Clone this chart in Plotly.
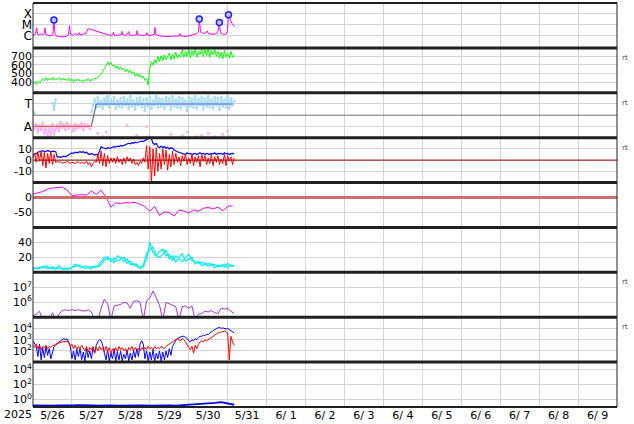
import math
import pandas as pd
import plotly.graph_objects as go
from plotly.subplots import make_subplots

START = pd.Timestamp("2025-05-26 00:00")
END = pd.Timestamp("2025-06-10 00:00")
day_labels = ["5/26", "5/27", "5/28", "5/29", "5/30", "5/31", "6/ 1", "6/ 2",
              "6/ 3", "6/ 4", "6/ 5", "6/ 6", "6/ 7", "6/ 8", "6/ 9"]

# ---- panel 1: X-ray flux (W/m2), irregular hours since 5/26 00 UT
xray_hours = [0.0, 0.6, 1.5, 2.3, 2.8, 3.7, 4.9, 6.2, 7.1, 7.4, 7.9, 9.2, 11.1, 12.3, 12.9, 13.6,
              15.4, 17.9, 20.3, 21.9, 22.5, 23.1, 24.7, 25.9, 27.1, 28.4, 29.0, 30.8, 32.7, 33.9,
              45.6, 47.5, 49.3, 49.6, 50.0, 52.4, 54.6, 54.9, 55.2, 57.3, 59.2, 59.5, 61.7, 63.8,
              64.1, 64.4, 67.2, 70.0, 70.3, 70.9, 73.4, 74.9, 75.2, 75.8, 78.3, 82.0, 85.7, 90.0,
              90.6, 91.2, 94.3, 96.8, 99.3, 101.1, 102.0, 102.5, 103.3, 104.8, 106.7, 107.3, 108.2,
              110.4, 112.8, 114.1, 114.9, 115.6, 117.1, 119.0, 119.9, 120.5, 121.5, 122.7, 124.5]
xray_flux = [1.2e-6, 1.0e-6, 1.5e-6, 5.0e-6, 1.3e-6, 1.1e-6, 1.4e-6, 1.2e-6, 1.6e-6, 5.0e-6, 1.2e-6,
             1.0e-6, 9e-7, 1.3e-6, 2.7e-5, 1.2e-6, 8e-7, 7.5e-7, 8e-7, 1.2e-6, 8e-6, 1.3e-6, 1.0e-6,
             1.5e-6, 1.1e-6, 1.8e-6, 1.1e-6, 1.3e-6, 1.6e-6, 4.3e-6, 1.1e-6, 1.0e-6, 1.2e-6, 2.0e-6,
             1.1e-6, 1.0e-6, 1.3e-6, 2.4e-6, 1.2e-6, 1.0e-6, 2.3e-6, 1.1e-6, 1.0e-6, 1.2e-6, 2.8e-6,
             1.2e-6, 1.0e-6, 1.1e-6, 1.8e-6, 1.0e-6, 1.1e-6, 1.3e-6, 5.6e-6, 1.2e-6, 9e-7, 8e-7,
             8.5e-7, 9e-7, 1.5e-6, 9e-7, 8e-7, 1.0e-6, 1.2e-6, 1.5e-6, 2e-6, 3.4e-5, 2.2e-6, 1.5e-6,
             1.8e-6, 2.6e-6, 1.5e-6, 1.3e-6, 1.4e-6, 2.5e-6, 1.6e-5, 1.8e-6, 1.3e-6, 1.3e-6, 2.5e-6,
             8.0e-5, 3.5e-5, 1.2e-5, 6.5e-6]
flare_hours = [12.9, 102.5, 114.9, 120.5]
flare_flux = [2.7e-5, 3.4e-5, 1.6e-5, 8.0e-5]
xray_ticks = [1e-6, 1e-5, 1e-4]
xray_labels = ["C", "M", "X"]

# ---- panel 2: solar wind speed (km/s), hourly
speed = [385, 405, 375, 410, 390, 420,
         440, 415, 450, 420, 445, 425, 455, 420, 440,
         430, 450, 420, 445, 425, 440, 415, 445,
         410, 435, 405, 430, 415, 440, 410, 425, 400, 430, 415, 440, 410, 430, 420, 445,
         440, 455, 470, 500, 520, 560,
         590, 640, 600, 630, 590,
         600, 560, 590, 550, 580, 540,
         560, 520, 550, 510, 540, 500,
         520, 470, 500, 460, 490, 450, 470,
         420, 440, 365,
         560, 640, 600, 660, 620,
         700, 640, 710, 650, 720, 660, 700,
         740, 660, 730, 670, 750, 680, 720, 690,
         780, 690, 760, 700, 790, 680, 770, 710, 790, 690, 760, 720,
         790, 700, 780, 710, 800, 690, 770, 720, 790, 700,
         760, 680, 750, 670, 770, 690, 740, 680, 760, 690, 720]
speed_ticks = [400, 500, 600, 700]

# ---- panel 3: IMF sector (T = +1, A = -1), hourly
toward_pts = [0.4, 0.2, None, None,
              None, None, None, None, None, None, None, None,
              1.1, 0.5, 1.4, None,
              None, None, None, None, None, None, None, None, None, None,
              None, None, None, None, None, None, None, None, None, None,
              0.3, 0.9, 1.4, 0.7, 1.6, 0.8, 1.3, 0.6, 1.5, 0.9, 1.7, 0.7, 1.4, 1.0, 1.6, 0.6, 1.3, 0.8, 1.5, 0.7,
              1.6, 0.9, 1.4, 0.6, 1.7, 0.8, 1.3, 0.5, 1.5, 0.9, 1.6, 0.7, 1.4, 0.4, 1.5, 0.8, 1.6, 0.6, 1.3, 0.9,
              1.7, 0.7, 1.5, 0.8, 1.4, 0.6, 1.6, 0.9, 1.5, 0.5, 1.7, 0.8, 1.4, 0.7, 1.6, 0.6, 1.5, 0.9, 1.3, 0.4,
              1.6, 0.8, 1.5, 0.7, 1.7, 0.6, 1.4, 0.9, 1.6, 0.5, 1.5, 0.8, 1.7, 0.7, 1.4, 0.6, 1.6, 0.9, 1.5, 0.5,
              1.6, 0.8, 1.4, 0.7, 1.7, 0.6, 1.5, 0.9, 1.3]
away_pts = [-0.6, -1.2, -0.8, -1.5, -0.9, -1.3, -0.7, -1.6, -1.0, -1.8, -1.1, -1.9, -0.8, -1.7, -1.2,
            -0.9, -1.4, -0.6, -1.1, -0.8, -1.3, -0.7, -1.2, -0.9, -1.0, -1.4, -0.8, -1.2, -0.9, -1.1,
            -0.7, -1.3, -0.8, -1.0, -0.9, -1.2]
away_sparse_hours = [40, 43, 45, 46, 58, 64, 70, 71, 85, 92, 95, 101, 104, 108, 112, 117, 120, 121]
away_sparse_vals = [-1.6, -1.9, -1.5, -1.9, -0.9, -1.8, -1.0, -1.9, -1.7, -1.8, -1.5, -1.9, -1.8,
                    -1.6, -1.9, -1.7, -1.4, -1.9]
sector_hours = [0, 36, 39, 123]
sector_vals = [-1, -1, 1, 1]

# ---- panel 4: IMF Bt / Bz (nT), hourly
bt = [4.5, 5, 6, 7, 7.5,
      8, 8.5, 7.5, 8, 8.5, 8, 7.5, 8,
      8, 7.5,
      2.5, 3, 2.5, 3, 3.5, 3, 4,
      5, 6, 6.5, 6, 7, 6.5, 7, 7.5, 7, 7.5, 6.5, 7,
      5.5, 5, 6, 5, 4.5, 5,
      4.5, 8, 12,
      11, 10.5, 10, 11, 10.5, 11, 11.5,
      12, 11.5, 12.5, 12, 13, 12.5, 13, 13.5, 14,
      15, 14.5, 15.5, 15, 16, 15.5, 16, 16.5,
      17, 16.5, 17.5, 18,
      19, 20, 19,
      15, 14, 15,
      12, 11, 12.5, 11, 12, 10.5, 11.5, 10, 11, 10.5,
      9, 8, 7.5, 7, 6.5, 6,
      6, 5, 6.5, 5.5, 6, 5, 5.5, 6, 5, 5.5, 6.5, 5.5, 6, 5, 6, 5.5, 5, 6, 5.5, 6.5,
      5, 6, 5.5, 6, 5, 6.5, 5.5, 6, 5, 5.5, 6, 5.5]
bz = [2, 6, -2, 7, -1,
      8, -5, 7, -7, 6, -3, 8, -4,
      5, -2,
      -1, -2, -1.5, -3, -2, -2.5, -1,
      -2, -3, -2, -2.5, -3, -2, -1.5, -3, -2, -2.5, -3, -1,
      -4, -2, -6, -3, -1, -2,
      5, -3, 8, -5, 6, -6, 4, -3, 2, -2,
      2, -3, 3, -2, 1, -4, 2, -3, 3, -1, 2, -3, 1, -4, -2, -5, -1, -3, 2, -2,
      13, -8, 12, -20, 10, -14,
      11, -10, 6, -8, 10, -4, 9, -9, 5, -6, 8,
      -4, 6, -2, 3, -5, 4, -1, 6, -4, 2, -3, 5, -5, 3, -2, 4, -6, 5, -1, 4,
      -4, 2, -3, 5, -5, 3, -2, 4, -4, 1, -3, 5, -5, 4, -1, 3, -4, 2]
b_ticks = [-10, 0, 10]

# ---- panel 5: Dst (nT), 3-hourly
dst = [11, 15, 20, 28, 32, 33, 35, 25, 6, 8, 10, 8, 22, 10, 24, 2,
       -32, -18, -20, -17, -18, -16, -22, -30, -46, -30, -60, -48, -50, -62, -42, -45,
       -52, -42, -46, -36, -33, -38, -32, -44, -30, -27]
dst_ticks = [-50, 0]

# ---- panel 6: solar wind density-like quantity, 2-hourly (two sources)
cyan1 = [6, 5, 7, 6, 9, 6, 5, 4, 9, 4,
         4, 5, 7, 8, 10, 7, 5, 7, 8, 6,
         9, 14, 20, 17, 18, 13, 22, 20, 14, 18,
         10, 12, 8, 6, 10, 25, 30, 34, 22, 28,
         31, 22, 24, 16, 22, 18, 14, 20, 24, 16,
         14, 12, 14, 10, 12, 9, 11, 7, 10, 7,
         12, 8, 9]
cyan2 = [4, 6, 5, 8, 6, 5, 7, 6, 5, 5,
         6, 4, 6, 11, 8, 6, 9, 6, 5, 8,
         7, 10, 16, 21, 14, 19, 15, 17, 20, 12,
         15, 9, 11, 5, 7, 18, 40, 26, 22, 20,
         24, 30, 18, 22, 14, 20, 25, 15, 18, 20,
         11, 15, 9, 13, 8, 12, 6, 10, 8, 11,
         6, 10, 7]
cyan_ticks = [20, 40]

# ---- panel 7: electron flux (log10), 2-hourly
electron_log = [5.1, 5.2, 5.4, 4.8, 4.8, 4.8, 5.3, 4.8, 5.2, 5.45,
                5.5, 5.45, 5.5, 5.45, 5.5, 5.45, 5.4, 5.5, 5.35, 4.8,
                4.8, 5.6, 6.2, 5.9, 4.8, 5.75, 5.8, 5.85, 6.0, 5.95,
                5.6, 6.05, 6.1, 6.0, 4.8, 6.1, 6.3, 6.75, 6.3, 5.8,
                4.8, 6.0, 5.9, 5.8, 5.7, 4.8, 5.7, 5.75, 5.6, 5.75,
                4.8, 5.2, 5.25, 5.4, 5.35, 5.45, 5.3, 5.25, 5.6, 5.55,
                5.6, 5.4, 5.25]
electron_levels = [1e6, 1e7]

# ---- panel 8: particle flux (log10), hourly, two channels
p8_blue_log = [2.9, 2.7, 2.4, 1.5, 2.6,
               1.2, 2.3, 1.4, 2.4, 1.6, 2.2, 1.3, 2.0,
               2.4, 2.5, 2.7, 2.8, 2.9, 3.0,
               3.1, 3.0, 3.05, 2.8,
               2.4, 1.3, 2.0, 1.2, 2.1,
               1.5, 2.2, 1.2, 1.9, 1.1, 2.2, 1.4, 2.0, 1.3, 2.3, 1.8, 2.5,
               2.8, 3.0, 2.9, 2.5, 1.8,
               1.2, 2.1, 1.1, 1.8, 1.3, 2.2, 1.1, 1.9, 1.2, 2.0, 1.1, 1.7, 1.3, 2.1, 1.1, 1.8,
               1.2, 2.0, 1.4, 2.2, 1.5, 2.6,
               2.9, 2.6,
               1.3, 2.0, 1.1, 1.9, 1.2, 2.1, 1.1, 1.8, 1.3, 2.0, 1.1, 1.9, 1.2, 2.0, 1.4, 2.2, 1.6, 2.4,
               2.7, 2.9, 3.1, 3.2, 3.25, 3.3,
               3.3, 3.2, 3.1,
               2.9, 2.8, 3.0, 2.9, 3.1, 3.0, 3.2, 3.3,
               3.3, 3.4, 3.35, 3.5, 3.45, 3.6, 3.7, 3.8,
               3.9, 4.0, 4.05, 4.1, 4.0, 4.05,
               4.0, 3.95, 4.0, 3.9, 3.8, 3.7, 3.6]
p8_red_log = [2.5, 2.3, 2.6, 2.2, 2.5, 2.1, 2.4, 2.3, 2.5, 2.2, 2.4, 2.3, 2.5,
              2.5, 2.6, 2.65, 2.7, 2.75, 2.8, 2.85, 2.8, 2.9, 2.7,
              2.4, 2.6, 2.2, 2.5, 2.1, 2.4, 2.2, 2.5,
              2.3, 2.0, 2.4, 1.9, 2.3, 2.1, 2.4, 1.8, 2.3, 2.0, 2.4, 2.1, 2.3, 1.9, 2.4, 2.0, 2.3, 1.7, 2.2,
              2.0, 2.3, 1.9, 2.4, 2.1, 2.3, 2.0, 2.2, 1.8, 2.3, 2.1, 2.4, 2.0, 2.3, 2.1, 2.2, 2.0, 2.3, 2.1,
              2.3, 2.1, 2.4, 2.2, 2.3, 2.1, 2.4, 2.2, 2.3, 2.2, 2.4, 2.3, 2.2, 2.4, 2.5, 2.6, 2.7, 2.8,
              2.9, 3.0, 3.1, 3.0, 2.9, 3.1, 3.0, 2.8, 2.5,
              2.3, 2.1, 2.4, 1.8, 2.5, 2.2, 2.6, 2.8,
              2.9, 2.8, 3.0, 2.9, 3.0, 3.1, 3.2, 3.3,
              3.4, 3.5, 3.6, 3.6, 3.7, 3.7,
              3.75, 3.7, 3.6, 1.2, 3.3, 2.8, 2.5]
p8_level = 1e4

# ---- panel 9: proton flux, 4-hourly
proton = [0.16, 0.15, 0.17, 0.15, 0.16, 0.15, 0.16, 0.17, 0.15, 0.16, 0.15, 0.17, 0.16, 0.15,
          0.16, 0.15, 0.17, 0.16, 0.15, 0.16, 0.17, 0.16, 0.15, 0.17, 0.18, 0.2, 0.22, 0.25,
          0.35, 0.45, 0.3, 0.2]

log_ticks7 = [1e6, 1e7]
log_ticks8 = [1e2, 1e3, 1e4]
log_ticks9 = [1e0, 1e2, 1e4]


def tax(n, step):
    return START + pd.to_timedelta([i * step for i in range(n)], unit="h")


def thours(hours):
    return START + pd.to_timedelta(hours, unit="h")


def sup(v):
    return "10<sup>%d</sup>" % round(math.log10(v))


GRID = "#d4d4d4"
FONT = "DejaVu Sans"

fig = make_subplots(rows=9, cols=1, shared_xaxes=True, vertical_spacing=0)


def add(tr, row):
    fig.add_trace(tr, row=row, col=1)


# panel 1
add(go.Scatter(x=thours(xray_hours), y=xray_flux, mode="lines",
               line=dict(color="#ff00ff", width=1)), 1)
add(go.Scatter(x=thours(flare_hours), y=flare_flux, mode="markers",
               marker=dict(symbol="circle", size=6, color="#c8c8ff",
                           line=dict(color="#2020ff", width=1.5))), 1)
# panel 2
add(go.Scatter(x=tax(len(speed), 1), y=speed, mode="lines",
               line=dict(color="#00ff00", width=1)), 2)
# panel 3
add(go.Scatter(x=tax(len(toward_pts), 1), y=toward_pts, mode="lines+markers",
               line=dict(color="#a8def8", width=1.5), marker=dict(size=3, color="#a8def8")), 3)
add(go.Scatter(x=tax(len(away_pts), 1), y=away_pts, mode="lines+markers",
               line=dict(color="#f8b4f0", width=1.5), marker=dict(size=3, color="#f8b4f0")), 3)
add(go.Scatter(x=thours(away_sparse_hours), y=away_sparse_vals, mode="markers",
               marker=dict(size=3, color="#f8b4f0")), 3)
add(go.Scatter(x=thours(sector_hours[0:2]), y=sector_vals[0:2], mode="lines",
               line=dict(color="#e06060", width=1.2)), 3)
add(go.Scatter(x=thours(sector_hours[1:3]), y=sector_vals[1:3], mode="lines",
               line=dict(color="#607060", width=1.2)), 3)
add(go.Scatter(x=thours(sector_hours[2:4]), y=sector_vals[2:4], mode="lines",
               line=dict(color="#6060e0", width=1.2)), 3)
# panel 4
add(go.Scatter(x=tax(len(bt), 1), y=bt, mode="lines", line=dict(color="#0000ff", width=1.2)), 4)
add(go.Scatter(x=tax(len(bz), 1), y=bz, mode="lines", line=dict(color="#ff0000", width=1)), 4)
# panel 5
add(go.Scatter(x=tax(len(dst), 3), y=dst, mode="lines", line=dict(color="#ee00ee", width=1)), 5)
# panel 6
add(go.Scatter(x=tax(len(cyan1), 2), y=cyan1, mode="lines", line=dict(color="#00f0f0", width=1.2)), 6)
add(go.Scatter(x=tax(len(cyan2), 2), y=cyan2, mode="lines", line=dict(color="#00f0f0", width=1.2)), 6)
# panel 7
add(go.Scatter(x=tax(len(electron_log), 2), y=[10 ** v for v in electron_log], mode="lines",
               line=dict(color="#a030e0", width=1)), 7)
# panel 8
add(go.Scatter(x=tax(len(p8_blue_log), 1), y=[10 ** v for v in p8_blue_log], mode="lines",
               line=dict(color="#0000ff", width=1)), 8)
add(go.Scatter(x=tax(len(p8_red_log), 1), y=[10 ** v for v in p8_red_log], mode="lines",
               line=dict(color="#ff0000", width=1)), 8)
# panel 9
add(go.Scatter(x=tax(len(proton), 4), y=proton, mode="lines",
               line=dict(color="#0000e0", width=1.8)), 9)

tick_font = dict(family=FONT, size=11, color="black")
x_font = dict(family=FONT, size=11, color="black")
noon = [START + pd.Timedelta(hours=12 + 24 * i) for i in range(len(day_labels))]
day_starts = [START + pd.Timedelta(days=i) for i in range(16)]

for r in range(1, 10):
    fig.update_xaxes(row=r, col=1, range=[START, END], showgrid=False, zeroline=False,
                     showline=False, ticks="", tickvals=noon, ticktext=day_labels,
                     showticklabels=(r == 9), tickfont=x_font,
                     minor=dict(tickmode="array", tickvals=day_starts, showgrid=True,
                                gridcolor=GRID, gridwidth=1, ticks=""))

letter_font = dict(family=FONT, size=12, color="black")
ycfg = [
    dict(type="log", range=[-7.15, -3], tickvals=xray_ticks, ticktext=xray_labels,
         tickfont=letter_font),
    dict(range=[275, 800], tickvals=speed_ticks, ticktext=[str(v) for v in speed_ticks]),
    dict(range=[-2, 2], tickvals=[-1, 1], ticktext=["A", "T"], tickfont=letter_font),
    dict(range=[-20, 20], tickvals=b_ticks, ticktext=[str(v) for v in b_ticks]),
    dict(range=[-100, 50], tickvals=dst_ticks, ticktext=[str(v) for v in dst_ticks]),
    dict(range=[0, 60], tickvals=cyan_ticks, ticktext=[str(v) for v in cyan_ticks]),
    dict(type="log", range=[5, 8], tickvals=log_ticks7, ticktext=[sup(v) for v in log_ticks7]),
    dict(type="log", range=[1, 5], tickvals=log_ticks8, ticktext=[sup(v) for v in log_ticks8]),
    dict(type="log", range=[-1, 5], tickvals=log_ticks9, ticktext=[sup(v) for v in log_ticks9]),
]
for i, c in enumerate(ycfg):
    c.setdefault("tickfont", tick_font)
    fig.update_yaxes(row=i + 1, col=1, showgrid=True, gridcolor=GRID, gridwidth=1,
                     zeroline=False, showline=False, ticks="", **c)

shapes = []
# reference lines
shapes.append(dict(type="line", xref="x3 domain", yref="y3", x0=0, x1=1, y0=0, y1=0,
                   line=dict(color="#707070", width=1)))
shapes.append(dict(type="line", xref="x4 domain", yref="y4", x0=0, x1=1, y0=0, y1=0,
                   line=dict(color="#a00000", width=1)))
shapes.append(dict(type="line", xref="x5 domain", yref="y5", x0=0, x1=1, y0=0, y1=0,
                   line=dict(color="#cd6e6e", width=3)))
for lv in electron_levels:
    shapes.append(dict(type="line", xref="x7 domain", yref="y7", x0=0, x1=1,
                       y0=math.log10(lv), y1=math.log10(lv), line=dict(color="#c00000", width=1)))
shapes.append(dict(type="line", xref="x8 domain", yref="y8", x0=0, x1=1,
                   y0=math.log10(p8_level), y1=math.log10(p8_level),
                   line=dict(color="#e03030", width=1.5, dash="dash")))
# panel separators and frame
for k in range(10):
    shapes.append(dict(type="line", xref="paper", yref="paper", x0=0, x1=1, y0=k / 9, y1=k / 9,
                       line=dict(color="#202020", width=3 if 0 < k < 9 else 2)))
for xv in (0, 1):
    shapes.append(dict(type="line", xref="paper", yref="paper", x0=xv, x1=xv, y0=0, y1=1,
                       line=dict(color="#202020", width=1)))

annotations = [dict(text="2025", xref="paper", yref="paper", x=-0.026, y=-0.018,
                    xanchor="center", yanchor="middle", showarrow=False, font=x_font)]
for k in (1, 2, 3, 6, 7):
    annotations.append(dict(text="rt", xref="paper", yref="paper", x=1, xshift=8,
                            y=1 - k / 9 - 0.025, xanchor="center", yanchor="middle",
                            showarrow=False, font=dict(family=FONT, size=7, color="#404040")))

fig.update_layout(width=634, height=424, margin=dict(l=33, r=17, t=3, b=17),
                  plot_bgcolor="white", paper_bgcolor="white", showlegend=False,
                  shapes=shapes, annotations=annotations, font=dict(family=FONT))
fig.write_html("out.html", config={"displayModeBar": False},
               post_script="document.body.style.margin='0px';")
